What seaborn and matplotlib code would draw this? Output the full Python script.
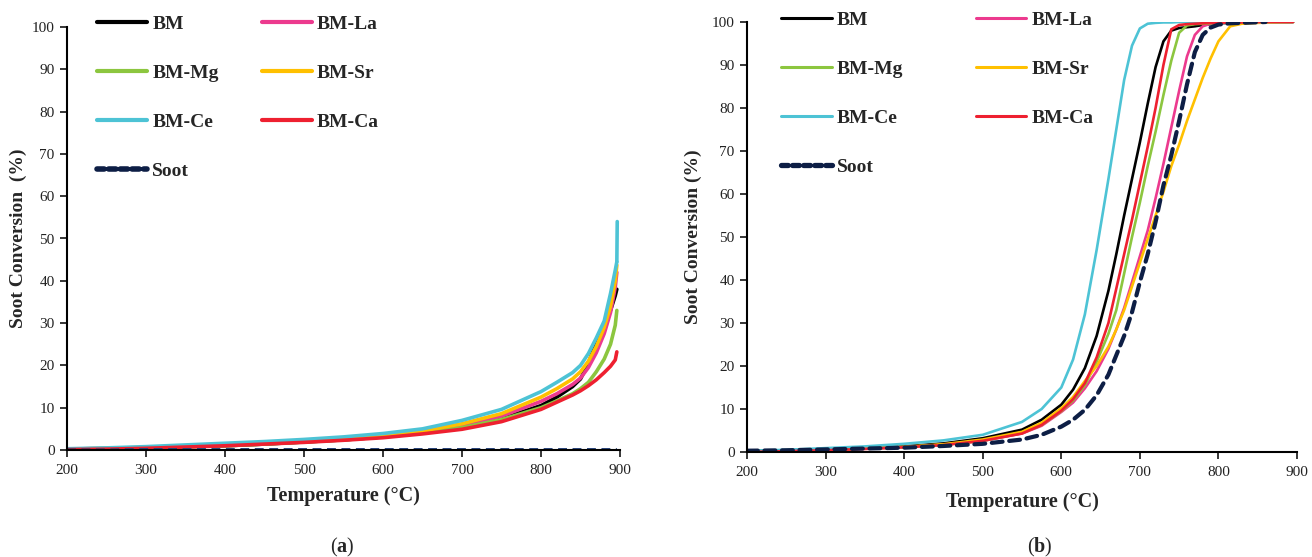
import matplotlib
matplotlib.use("Agg")
import matplotlib.pyplot as plt
import seaborn as sns

# ---------------- data ----------------
series_names = ["BM", "BM-La", "BM-Mg", "BM-Sr", "BM-Ce", "BM-Ca", "Soot"]

# panel (a)
a_T = [200, 250, 300, 350, 400, 450, 500, 550, 600, 650, 700, 750, 800, 820, 840, 850, 860, 870, 880, 888, 894, 896]
a_BM = [0.2, 0.3, 0.5, 0.8, 1.0, 1.4, 1.9, 2.4, 3.1, 4.0, 5.4, 7.4, 10.5, 12.5, 15.0, 16.8, 20.5, 25.5, 29.5, 33.0, 36.5, 38.0]
a_La = [0.2, 0.4, 0.6, 0.9, 1.2, 1.6, 2.1, 2.6, 3.3, 4.3, 5.8, 8.0, 11.5, 13.3, 15.5, 17.0, 19.5, 23.0, 27.5, 32.5, 38.5, 42.0]
a_Mg = [0.2, 0.3, 0.5, 0.8, 1.0, 1.4, 1.9, 2.4, 3.1, 4.0, 5.3, 7.2, 10.0, 11.6, 13.3, 14.5, 16.0, 18.5, 21.5, 25.0, 29.5, 33.0]
a_Sr = [0.2, 0.4, 0.6, 1.0, 1.3, 1.7, 2.2, 2.8, 3.5, 4.5, 6.2, 8.6, 12.5, 14.5, 16.8, 18.5, 21.0, 24.5, 29.0, 34.0, 40.0, 43.7]
a_Ce = [0.3, 0.5, 0.8, 1.2, 1.6, 2.0, 2.5, 3.1, 3.9, 5.0, 7.0, 9.6, 13.8, 16.0, 18.3, 20.0, 22.8, 26.5, 30.5, 37.0, 42.5, 44.5]
a_Ca = [0.1, 0.2, 0.4, 0.7, 1.0, 1.4, 1.8, 2.3, 2.9, 3.8, 4.9, 6.7, 9.6, 11.3, 13.0, 14.0, 15.2, 16.6, 18.3, 19.8, 21.3, 23.2]
a_Ce_end_T = [896, 896.5]
a_Ce_end_v = [44.5, 54.0]
a_Soot = [0.1, 0.1, 0.2, 0.2, 0.2, 0.2, 0.2, 0.2, 0.2, 0.2, 0.2, 0.2, 0.2, 0.2, 0.2, 0.2, 0.2, 0.2, 0.2, 0.2, 0.2, 0.2]

# panel (b)
b_T = [200, 250, 300, 350, 400, 450, 500, 550, 575, 600, 615, 630, 645, 660, 670, 680, 690, 700, 710, 720,
       730, 740, 750, 760, 770, 780, 790, 800, 815, 830, 850, 895]
b_BM = [0.2, 0.4, 0.6, 0.9, 1.3, 2.0, 3.2, 5.2, 7.5, 11.0, 14.5, 19.5, 27.0, 37.5, 46.0, 55.0, 63.5, 72.0, 81.0, 89.5,
        95.5, 98.0, 98.6, 98.8, 99.0, 99.3, 99.5, 99.7, 99.8, 99.9, 100.0, 100.0]
b_La = [0.1, 0.3, 0.5, 0.8, 1.1, 1.7, 2.6, 4.3, 6.1, 9.3, 11.5, 14.8, 18.8, 24.0, 28.5, 33.5, 39.5, 45.5, 51.5, 59.0,
        67.0, 75.5, 84.0, 92.0, 97.0, 99.0, 99.6, 99.8, 99.9, 99.9, 100.0, 100.0]
b_Mg = [0.1, 0.3, 0.5, 0.8, 1.1, 1.7, 2.6, 4.4, 6.3, 9.5, 12.0, 15.5, 21.0, 27.5, 33.0, 41.5, 50.0, 58.0, 66.5, 74.5,
        83.0, 91.0, 97.5, 99.2, 99.5, 99.6, 99.7, 99.8, 99.9, 99.9, 100.0, 100.0]
b_Sr = [0.2, 0.3, 0.5, 0.8, 1.2, 1.8, 2.9, 4.7, 6.8, 10.2, 12.8, 16.5, 20.0, 24.5, 28.5, 33.0, 38.5, 44.0, 49.5, 55.0,
        60.5, 66.5, 71.5, 77.0, 82.0, 87.0, 91.5, 95.5, 99.0, 99.6, 99.8, 100.0]
b_Ce = [0.3, 0.5, 0.9, 1.3, 1.9, 2.7, 4.0, 7.0, 10.0, 15.0, 21.5, 32.0, 47.0, 63.5, 75.0, 86.5, 94.5, 98.5, 99.6, 99.8,
        99.9, 99.9, 100.0, 100.0, 100.0, 100.0, 100.0, 100.0, 100.0, 100.0, 100.0, 100.0]
b_Ca = [0.0, 0.2, 0.4, 0.7, 1.1, 1.6, 2.6, 4.3, 6.3, 9.6, 12.3, 16.0, 22.0, 30.0, 38.0, 46.0, 54.0, 62.5, 71.0, 80.0,
        90.0, 98.3, 99.3, 99.5, 99.6, 99.7, 99.8, 99.8, 99.9, 99.9, 100.0, 100.0]
b_Soot_T = [200, 250, 300, 350, 400, 450, 500, 550, 575, 600, 615, 630, 645, 660, 670, 680, 690, 700, 710, 720,
            730, 740, 750, 760, 770, 780, 790, 800, 815, 830, 860]
b_Soot = [0.3, 0.4, 0.6, 0.8, 1.0, 1.4, 1.9, 2.9, 4.0, 5.9, 7.5, 9.8, 13.2, 18.0, 22.5, 27.0, 32.5, 39.5, 46.0, 53.5,
          62.0, 69.0, 77.0, 85.5, 93.0, 97.0, 98.7, 99.4, 99.7, 99.8, 100.0]

x_ticks = [200, 300, 400, 500, 600, 700, 800, 900]
y_ticks = [0, 10, 20, 30, 40, 50, 60, 70, 80, 90, 100]

colors = {"BM": "#000000", "BM-La": "#EC3A8E", "BM-Mg": "#8CC63F", "BM-Sr": "#FFC000",
          "BM-Ce": "#4DC3D5", "BM-Ca": "#EE2030", "Soot": "#0D1E45"}

# ---------------- style ----------------
sns.set_style("ticks")
plt.rcParams["font.family"] = ["Liberation Serif", "DejaVu Serif"]
plt.rcParams["mathtext.fontset"] = "custom"
plt.rcParams["mathtext.bf"] = "Liberation Serif:bold"
plt.rcParams["mathtext.rm"] = "Liberation Serif"

fig = plt.figure(figsize=(13.12, 5.57), dpi=100)
W, H = 1312, 557
axA = fig.add_axes([67 / W, 1 - 450 / H, (620 - 67) / W, (450 - 27) / H])
axB = fig.add_axes([747 / W, 1 - 452 / H, (1297 - 747) / W, (452 - 22) / H])

# panel (a)
lwA = 2.6
a_vals = {"BM": a_BM, "BM-La": a_La, "BM-Mg": a_Mg, "BM-Sr": a_Sr, "BM-Ce": a_Ce, "BM-Ca": a_Ca}
for name in ["BM", "BM-La", "BM-Mg", "BM-Sr", "BM-Ce", "BM-Ca"]:
    sns.lineplot(x=a_T, y=a_vals[name], ax=axA, color=colors[name], lw=lwA, label=name)
sns.lineplot(x=a_Ce_end_T, y=a_Ce_end_v, ax=axA, color=colors["BM-Ce"], lw=lwA)
sns.lineplot(x=a_T, y=a_Soot, ax=axA, color="#23407A", lw=1.6, label="Soot")
axA.lines[-1].set_dashes([4, 2.5])

# panel (b)
lwB = 1.9
b_vals = {"BM": b_BM, "BM-La": b_La, "BM-Mg": b_Mg, "BM-Sr": b_Sr, "BM-Ce": b_Ce, "BM-Ca": b_Ca}
for name in ["BM", "BM-La", "BM-Mg", "BM-Sr", "BM-Ce", "BM-Ca"]:
    sns.lineplot(x=b_T, y=b_vals[name], ax=axB, color=colors[name], lw=lwB, label=name)
sns.lineplot(x=b_Soot_T, y=b_Soot, ax=axB, color=colors["Soot"], lw=3.0, label="Soot")
axB.lines[-1].set_dashes([2.6, 1.6])
axB.lines[-1].set_dash_capstyle("round")


def style_axis(ax, ylab, ylab_x, xlab_y, leg_x, leg_y, colspace, leg_lw, soot_lw):
    ax.set_xlim(200, 900)
    ax.set_ylim(0, 100)
    ax.set_xticks(x_ticks)
    ax.set_yticks(y_ticks)
    ax.tick_params(axis="both", direction="out", length=5, width=1.1, color="black",
                   labelsize=11, labelcolor="#222222")
    ax.tick_params(axis="x", pad=5)
    ax.tick_params(axis="y", pad=4)
    for s in ["top", "right"]:
        ax.spines[s].set_visible(False)
    for s in ["left", "bottom"]:
        ax.spines[s].set_color("black")
        ax.spines[s].set_linewidth(1.5)
    ax.set_xlabel("Temperature (°C)", fontsize=14.5, fontweight="bold")
    ax.set_ylabel(ylab, fontsize=14, fontweight="bold")
    ax.xaxis.label.set_va("center")
    ax.yaxis.label.set_va("center")
    ax.xaxis.set_label_coords(0.5, xlab_y)
    ax.yaxis.set_label_coords(ylab_x, 0.5)
    handles, labels = ax.get_legend_handles_labels()
    hmap = dict(zip(labels, handles))
    order = ["BM", "BM-Mg", "BM-Ce", "Soot", "BM-La", "BM-Sr", "BM-Ca"]
    leg = ax.legend([hmap[o] for o in order], order, ncol=2, loc="upper left",
                    bbox_to_anchor=(leg_x, leg_y), frameon=False, borderpad=0, borderaxespad=0,
                    handlelength=2.6, handletextpad=0.25, columnspacing=colspace, labelspacing=1.62,
                    prop={"family": ["Liberation Serif"], "weight": "bold", "size": 14})
    for h, o in zip(leg.get_lines(), order):
        h.set_linewidth(soot_lw if o == "Soot" else leg_lw)
        if o == "Soot":
            h.set_color(colors["Soot"])
            h.set_dashes([1.3, 0.8])
            h.set_dash_capstyle("round")


style_axis(axA, "Soot Conversion  (%)", -0.0886, -0.109, 0.054, 1.028, 2.2, 3.0, 4.0)
style_axis(axB, "Soot Conversion (%)", -0.098, -0.116, 0.062, 1.025, 3.75, 2.2, 3.8)

fig.text(342 / W, 1 - 547 / H, r"($\mathbf{a}$)", ha="center", va="center", fontsize=14.5)
fig.text(1040 / W, 1 - 547 / H, r"($\mathbf{b}$)", ha="center", va="center", fontsize=14.5)

fig.savefig("out.png", dpi=100)
